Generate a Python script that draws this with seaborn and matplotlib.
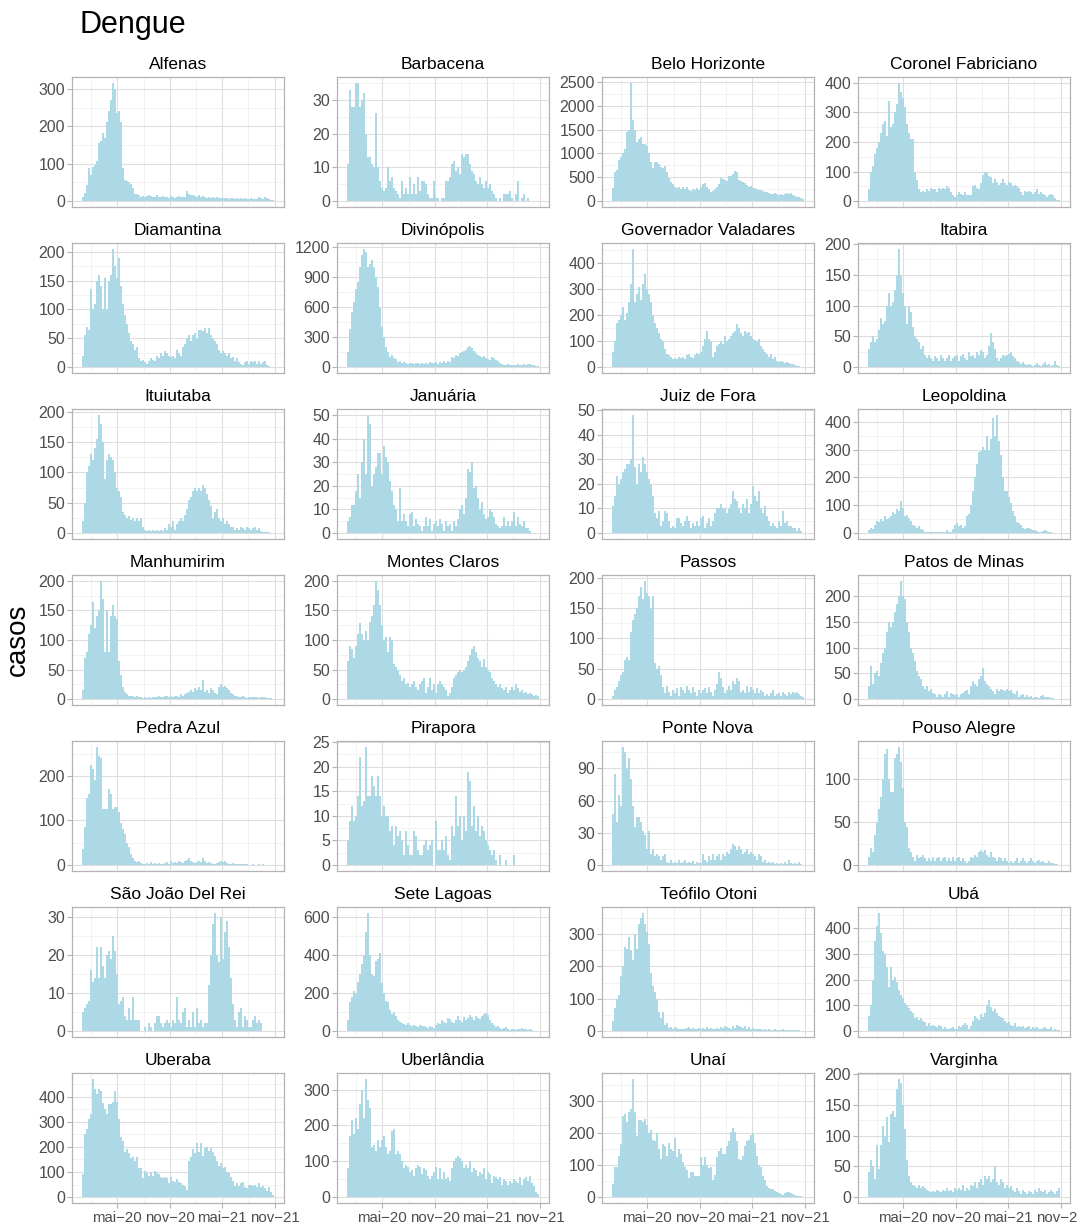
import matplotlib
matplotlib.use("Agg")
import matplotlib.pyplot as plt
import matplotlib.dates as mdates
from matplotlib.ticker import FixedLocator, FuncFormatter, NullFormatter
import numpy as np
import pandas as pd
import seaborn as sns

# casos semanais por cidade, semana 1 começa em 29/12/2019
cidades = ["Alfenas", "Barbacena", "Belo Horizonte", "Coronel Fabriciano",
           "Diamantina", "Divinópolis", "Governador Valadares", "Itabira",
           "Ituiutaba", "Januária", "Juiz de Fora", "Leopoldina",
           "Manhumirim", "Montes Claros", "Passos", "Patos de Minas",
           "Pedra Azul", "Pirapora", "Ponte Nova", "Pouso Alegre",
           "São João Del Rei", "Sete Lagoas", "Teófilo Otoni", "Ubá",
           "Uberaba", "Uberlândia", "Unaí", "Varginha"]

# passo das marcas do eixo y de cada painel
y_passo = [100, 10, 500, 100, 50, 300, 100, 50, 50, 10, 10, 100, 50, 50,
           50, 50, 100, 5, 30, 50, 10, 200, 100, 100, 100, 100, 100, 50]

alfenas = [10, 22, 42, 88, 70,
           90, 97, 106, 155, 160, 183, 170, 212, 240, 270, 316, 300, 235,
           240, 212, 88, 57, 55, 50, 45, 35, 20, 18, 15, 12, 14,
           12, 13, 15, 14, 10, 12, 15, 11, 10, 14, 12, 11, 9,
           13, 10, 9, 12, 14, 10, 11, 10, 26, 20, 17, 15, 14,
           12, 15, 11, 13, 10, 9, 11, 8, 10, 9, 11, 8, 7,
           9, 7, 8, 6, 9, 7, 6, 8, 5, 7, 6, 7, 6,
           6, 7, 5, 6, 5, 12, 9, 6, 10, 7, 5, 3, 2]
barbacena = [11, 33, 28, 28, 35,
             35, 28, 30, 32, 20, 13, 13, 11, 10, 26, 10, 6, 4,
             3, 4, 10, 6, 7, 4, 3, 2, 1, 6, 2, 4, 2,
             7, 2, 5, 2, 7, 3, 6, 6, 5, 2, 1, 1, 6,
             1, 1, 0, 1, 1, 6, 6, 7, 11, 12, 9, 10, 8,
             14, 13, 14, 14, 11, 9, 8, 6, 5, 7, 5, 4, 6,
             4, 5, 3, 2, 1, 0, 1, 0, 2, 2, 2, 3, 1,
             0, 2, 6, 0, 1, 2, 0, 1, 0, 0, 0, 0, 0]
belo_horizonte = [270, 620, 650, 870, 920,
                  1000, 1100, 1450, 1500, 2480, 1700, 1500, 1250, 1300, 1350, 1200, 1200, 1150,
                  1000, 820, 700, 820, 820, 780, 720, 700, 740, 600, 480, 400, 350,
                  300, 280, 300, 250, 300, 250, 300, 240, 220, 260, 230, 280, 230,
                  300, 350, 380, 300, 250, 200, 220, 250, 300, 350, 480, 470, 450,
                  430, 520, 520, 560, 640, 620, 450, 420, 400, 380, 340, 300, 310,
                  270, 280, 250, 240, 230, 220, 200, 190, 170, 150, 140, 160, 150,
                  130, 140, 130, 140, 160, 150, 170, 130, 100, 90, 80, 60, 40]
coronel_fabriciano = [40, 100, 120, 160, 180,
                      200, 230, 260, 270, 220, 340, 250, 260, 300, 330, 400, 370, 350,
                      320, 260, 230, 210, 210, 100, 70, 40, 30, 35, 30, 40, 35,
                      45, 40, 40, 30, 45, 40, 45, 40, 50, 45, 30, 20, 15,
                      20, 30, 25, 20, 30, 20, 20, 20, 50, 55, 45, 40, 60,
                      90, 100, 95, 85, 80, 60, 75, 65, 55, 60, 75, 60, 55,
                      65, 60, 50, 55, 50, 45, 30, 20, 35, 30, 35, 30, 25,
                      30, 40, 25, 30, 25, 20, 15, 20, 25, 20, 10, 5, 3]
diamantina = [20, 55, 70, 65, 135,
              100, 110, 150, 160, 140, 100, 155, 100, 150, 160, 205, 175, 155,
              190, 140, 110, 90, 75, 60, 45, 40, 30, 35, 15, 10, 12,
              8, 5, 10, 15, 12, 10, 20, 15, 25, 20, 28, 25, 20,
              18, 20, 15, 30, 25, 20, 35, 40, 50, 55, 45, 55, 60,
              50, 65, 65, 62, 68, 60, 68, 55, 50, 45, 40, 30, 25,
              28, 25, 20, 25, 15, 18, 10, 15, 8, 5, 3, 8, 10,
              5, 10, 8, 10, 6, 10, 5, 8, 10, 3, 2, 1, 0]
divinopolis = [150, 380, 550, 650, 780,
               850, 1000, 1120, 1180, 1150, 1000, 1030, 1070, 1000, 900, 800, 600, 400,
               300, 200, 150, 100, 120, 90, 80, 50, 60, 40, 50, 40, 30,
               45, 40, 35, 45, 40, 30, 40, 30, 45, 35, 50, 40, 45,
               55, 35, 50, 40, 60, 45, 60, 50, 100, 90, 120, 110, 140,
               150, 160, 170, 200, 210, 190, 160, 140, 120, 110, 100, 110, 90,
               80, 70, 100, 90, 70, 60, 40, 30, 20, 25, 30, 20, 25,
               20, 20, 30, 25, 20, 30, 25, 35, 30, 25, 20, 15, 10]
governador_valadares = [60, 100, 170, 180, 200,
                        230, 180, 210, 250, 320, 455, 250, 280, 310, 260, 320, 360, 300,
                        280, 250, 200, 170, 150, 130, 110, 100, 70, 50, 45, 40, 30,
                        35, 30, 40, 35, 40, 30, 45, 50, 40, 35, 45, 55, 50,
                        60, 80, 110, 140, 110, 100, 40, 60, 80, 90, 100, 90, 120,
                        100, 110, 120, 130, 140, 165, 150, 130, 120, 140, 130, 135, 120,
                        110, 105, 100, 110, 80, 70, 60, 50, 40, 50, 30, 40, 25,
                        20, 25, 20, 15, 20, 15, 10, 10, 8, 5, 3, 2, 1]
itabira = [30, 40, 50, 40, 45,
           60, 80, 70, 75, 100, 120, 100, 105, 125, 150, 192, 150, 120,
           100, 70, 100, 90, 65, 50, 45, 40, 30, 35, 20, 15, 20,
           15, 10, 18, 15, 10, 20, 15, 10, 15, 20, 10, 15, 18,
           20, 10, 18, 22, 15, 12, 25, 18, 20, 15, 25, 20, 28,
           25, 15, 20, 35, 55, 40, 30, 15, 10, 15, 20, 18, 20,
           22, 25, 18, 15, 10, 8, 5, 8, 5, 3, 5, 3, 2,
           4, 6, 3, 2, 5, 8, 3, 5, 2, 3, 10, 3, 1]
ituiutaba = [20, 50, 100, 110, 130,
             120, 140, 155, 195, 180, 150, 90, 120, 130, 125, 120, 100, 75,
             70, 60, 35, 30, 25, 28, 22, 25, 20, 25, 20, 25, 10,
             5, 3, 5, 3, 5, 3, 5, 3, 5, 3, 8, 5, 15,
             10, 20, 5, 15, 20, 25, 20, 30, 40, 55, 60, 70, 75,
             70, 75, 70, 80, 75, 65, 55, 45, 25, 35, 40, 25, 20,
             25, 15, 20, 15, 10, 10, 5, 8, 5, 10, 8, 5, 10,
             8, 5, 8, 10, 5, 8, 3, 2, 2, 1, 1, 0, 0]
januaria = [5, 7, 12, 12, 18,
            25, 15, 30, 40, 25, 50, 46, 20, 25, 28, 34, 34, 25,
            37, 32, 30, 22, 18, 12, 10, 5, 19, 5, 8, 5, 3,
            8, 9, 3, 6, 4, 3, 1, 3, 7, 3, 6, 1, 4,
            5, 3, 6, 4, 1, 5, 3, 4, 1, 5, 3, 6, 10,
            12, 8, 15, 27, 26, 30, 19, 20, 15, 10, 13, 8, 6,
            7, 10, 9, 7, 4, 3, 2, 3, 7, 3, 5, 3, 5,
            9, 3, 7, 4, 3, 5, 2, 2, 1, 0, 0, 0, 0]
juiz_de_fora = [11, 15, 23, 20, 22,
                25, 26, 28, 28, 30, 48, 27, 20, 28, 25, 31, 28, 25,
                22, 20, 15, 8, 6, 9, 3, 5, 9, 8, 5, 2, 3,
                2, 6, 6, 4, 3, 5, 7, 5, 2, 4, 3, 5, 3,
                6, 7, 2, 4, 6, 3, 5, 8, 10, 10, 12, 10, 10,
                8, 10, 12, 17, 14, 13, 10, 8, 12, 10, 14, 8, 12,
                19, 15, 13, 17, 10, 8, 11, 7, 5, 3, 4, 3, 2,
                5, 3, 9, 4, 5, 3, 3, 2, 2, 1, 2, 1, 0]
leopoldina = [10, 20, 15, 30, 45,
              40, 50, 45, 60, 50, 55, 60, 75, 70, 85, 80, 115, 90,
              60, 65, 55, 45, 30, 25, 20, 25, 15, 10, 5, 5, 5,
              3, 5, 5, 5, 3, 5, 3, 5, 10, 5, 5, 15, 30,
              35, 25, 30, 20, 25, 60, 70, 100, 150, 200, 250, 290, 295,
              310, 300, 350, 300, 340, 415, 350, 425, 330, 280, 200, 150, 150,
              130, 110, 80, 60, 40, 35, 30, 20, 15, 20, 20, 15, 10,
              10, 8, 5, 5, 8, 10, 8, 5, 3, 0, 0, 0, 0]
manhumirim = [15, 70, 80, 110, 125,
              165, 120, 140, 150, 200, 170, 80, 150, 80, 140, 160, 140, 135,
              65, 40, 20, 12, 8, 5, 5, 6, 4, 5, 3, 3, 2,
              3, 2, 3, 2, 4, 3, 3, 5, 3, 4, 6, 5, 4,
              5, 3, 6, 5, 4, 8, 5, 8, 10, 12, 15, 12, 18,
              15, 20, 15, 32, 12, 15, 10, 18, 15, 10, 8, 20, 25,
              20, 22, 18, 15, 10, 8, 5, 5, 3, 4, 5, 3, 2,
              4, 3, 3, 4, 3, 2, 3, 4, 3, 2, 1, 1, 0]
montes_claros = [65, 90, 85, 70, 90,
                 110, 128, 110, 100, 115, 100, 130, 140, 160, 200, 185, 160, 125,
                 100, 105, 80, 105, 100, 60, 55, 50, 40, 30, 35, 25, 28,
                 20, 25, 30, 20, 15, 25, 30, 35, 10, 20, 35, 15, 25,
                 10, 25, 30, 25, 20, 15, 5, 10, 20, 35, 40, 45, 50,
                 45, 50, 55, 65, 75, 85, 90, 80, 70, 65, 55, 68, 55,
                 50, 45, 35, 30, 25, 20, 25, 18, 15, 20, 10, 15, 20,
                 15, 25, 18, 12, 15, 10, 12, 8, 10, 8, 5, 7, 5]
passos = [5, 15, 20, 30, 40,
          45, 65, 70, 65, 110, 130, 140, 150, 170, 185, 165, 195, 175,
          170, 150, 170, 60, 50, 55, 40, 20, 10, 22, 12, 5, 15,
          10, 18, 5, 20, 15, 10, 22, 15, 10, 20, 12, 5, 15,
          10, 15, 18, 10, 20, 12, 5, 15, 25, 45, 35, 20, 10,
          15, 22, 15, 30, 25, 35, 30, 12, 15, 10, 22, 12, 20,
          15, 10, 18, 10, 15, 12, 5, 8, 5, 10, 15, 5, 8,
          10, 5, 12, 8, 5, 12, 8, 12, 10, 12, 8, 5, 4]
patos_de_minas = [25, 65, 30, 50, 55,
                  45, 70, 90, 100, 130, 150, 140, 150, 170, 185, 200, 230, 200,
                  195, 150, 130, 100, 90, 75, 55, 45, 40, 25, 20, 25, 15,
                  20, 12, 10, 5, 10, 8, 5, 10, 15, 5, 12, 10, 8,
                  10, 5, 10, 12, 15, 18, 10, 25, 35, 30, 25, 40, 45,
                  60, 35, 30, 25, 20, 15, 10, 20, 15, 20, 18, 15, 20,
                  15, 18, 12, 10, 15, 5, 8, 10, 5, 8, 4, 6, 3,
                  5, 4, 3, 6, 8, 5, 4, 5, 2, 3, 1, 1, 0]
pedra_azul = [35, 85, 150, 160, 225,
              215, 190, 265, 245, 240, 125, 125, 125, 170, 160, 125, 130, 130,
              120, 95, 80, 70, 50, 40, 25, 15, 10, 8, 10, 5, 3,
              2, 5, 3, 8, 3, 5, 3, 5, 3, 2, 5, 8, 3,
              10, 5, 8, 5, 10, 8, 5, 10, 12, 15, 10, 8, 5,
              8, 10, 8, 15, 10, 5, 8, 5, 3, 2, 5, 8, 10,
              8, 10, 5, 3, 2, 5, 3, 2, 3, 2, 3, 2, 2,
              1, 1, 2, 1, 1, 2, 1, 3, 1, 1, 0, 0, 0]
pirapora = [5, 9, 12, 9, 10,
            14, 22, 12, 13, 24, 14, 14, 18, 16, 14, 18, 14, 10,
            12, 10, 10, 7, 8, 4, 8, 6, 7, 5, 2, 7, 4,
            2, 2, 7, 6, 3, 2, 2, 4, 5, 3, 4, 5, 0,
            9, 3, 3, 5, 3, 6, 2, 1, 8, 6, 14, 8, 10,
            5, 10, 7, 19, 17, 8, 12, 7, 10, 6, 8, 7, 5,
            4, 3, 2, 3, 1, 0, 2, 0, 0, 1, 0, 0, 0,
            2, 0, 0, 0, 0, 0, 0, 0, 0, 0, 0, 0, 0]
ponte_nova = [48, 85, 40, 65, 55,
              110, 105, 90, 100, 80, 55, 35, 45, 45, 40, 32, 28, 15,
              32, 10, 15, 8, 10, 8, 5, 8, 10, 3, 2, 5, 2,
              3, 2, 5, 2, 3, 5, 2, 3, 2, 4, 1, 3, 2,
              2, 10, 5, 3, 8, 5, 10, 5, 8, 10, 5, 10, 8,
              12, 10, 15, 20, 18, 14, 18, 15, 10, 12, 15, 10, 12,
              10, 8, 5, 10, 8, 3, 5, 2, 3, 2, 3, 1, 2,
              1, 2, 1, 3, 1, 5, 2, 1, 2, 1, 3, 1, 0]
pouso_alegre = [10, 20, 15, 35, 50,
                65, 80, 100, 130, 135, 100, 85, 85, 125, 130, 138, 120, 90,
                50, 45, 20, 15, 10, 5, 12, 8, 10, 12, 8, 5, 8,
                5, 10, 5, 8, 10, 5, 8, 10, 5, 8, 5, 10, 5,
                8, 10, 5, 8, 5, 3, 5, 10, 8, 12, 10, 15, 18,
                15, 18, 12, 10, 15, 10, 8, 5, 10, 8, 5, 8, 5,
                3, 5, 3, 5, 8, 3, 5, 8, 5, 3, 5, 8, 5,
                3, 5, 6, 4, 5, 3, 2, 5, 3, 2, 1, 1, 0]
sao_joao_del_rei = [5, 6, 7, 8, 16,
                    13, 14, 22, 14, 22, 17, 14, 20, 21, 19, 25, 21, 15,
                    7, 8, 9, 4, 3, 6, 3, 9, 3, 3, 3, 0, 0,
                    1, 0, 2, 1, 0, 2, 4, 4, 2, 1, 2, 3, 2,
                    1, 3, 2, 9, 3, 2, 5, 6, 1, 3, 1, 5, 1,
                    6, 2, 3, 1, 2, 2, 12, 20, 28, 31, 20, 18, 30,
                    19, 26, 29, 22, 14, 7, 3, 1, 5, 6, 1, 4, 3,
                    1, 1, 3, 4, 2, 3, 2, 0, 0, 0, 0, 0, 0]
sete_lagoas = [60, 150, 180, 210, 200,
               260, 300, 350, 400, 520, 620, 400, 300, 290, 370, 380, 410, 250,
               200, 160, 150, 110, 90, 100, 80, 60, 50, 40, 35, 30, 40,
               30, 25, 30, 25, 20, 30, 25, 25, 20, 15, 25, 20, 15,
               30, 40, 35, 60, 50, 45, 70, 65, 50, 40, 60, 80, 60,
               50, 75, 60, 70, 85, 75, 60, 80, 70, 65, 80, 90, 95,
               85, 60, 40, 30, 20, 25, 15, 10, 15, 20, 10, 8, 12,
               10, 8, 12, 10, 15, 12, 10, 8, 10, 5, 3, 2, 1]
teofilo_otoni = [30, 70, 100, 110, 170,
                 200, 260, 255, 290, 250, 220, 300, 255, 330, 350, 365, 330, 305,
                 270, 180, 140, 120, 100, 60, 40, 60, 20, 25, 10, 12, 8,
                 12, 10, 8, 5, 8, 5, 10, 12, 8, 10, 5, 8, 10,
                 5, 10, 8, 12, 8, 10, 5, 8, 10, 8, 12, 10, 15,
                 12, 10, 8, 15, 10, 18, 15, 12, 10, 15, 8, 12, 5,
                 10, 8, 5, 8, 5, 3, 5, 3, 6, 4, 3, 5, 3,
                 4, 2, 5, 3, 2, 4, 3, 2, 3, 2, 2, 1, 1]
uba = [60, 100, 200, 350, 410,
       460, 380, 310, 300, 250, 170, 250, 200, 210, 190, 160, 140, 130,
       110, 100, 90, 80, 70, 50, 55, 45, 50, 40, 35, 20, 30,
       20, 25, 20, 15, 22, 18, 10, 15, 10, 8, 12, 15, 10,
       10, 20, 15, 25, 30, 25, 10, 20, 40, 60, 50, 45, 65,
       55, 70, 100, 120, 95, 80, 85, 70, 60, 55, 50, 40, 30,
       35, 25, 20, 30, 15, 20, 15, 20, 12, 15, 18, 10, 15,
       12, 15, 10, 8, 12, 15, 10, 8, 15, 5, 8, 5, 3]
uberaba = [90, 250, 270, 310, 330,
           470, 430, 410, 430, 420, 375, 350, 330, 370, 370, 380, 420, 380,
           310, 240, 225, 180, 190, 175, 155, 160, 145, 160, 115, 115, 75,
           105, 95, 85, 100, 85, 105, 95, 90, 80, 75, 80, 75, 55,
           80, 65, 60, 70, 60, 55, 50, 45, 30, 145, 160, 190, 175,
           215, 180, 215, 165, 195, 200, 185, 195, 180, 165, 145, 125, 135,
           115, 120, 100, 95, 80, 65, 45, 55, 45, 55, 60, 40, 35,
           50, 50, 45, 50, 40, 55, 40, 45, 35, 25, 40, 20, 10]
uberlandia = [80, 170, 215, 175, 220,
              190, 260, 300, 220, 330, 270, 250, 140, 145, 130, 160, 140, 160,
              170, 140, 120, 130, 185, 190, 120, 130, 120, 100, 80, 90, 85,
              70, 75, 60, 80, 90, 85, 65, 80, 75, 60, 50, 60, 70,
              85, 50, 80, 50, 70, 50, 55, 45, 80, 100, 110, 115, 110,
              100, 80, 90, 80, 100, 70, 80, 75, 60, 70, 65, 80, 50,
              70, 65, 40, 60, 55, 50, 55, 35, 50, 45, 35, 45, 40,
              50, 45, 40, 55, 35, 50, 55, 45, 58, 40, 30, 15, 10]
unai = [40, 95, 95, 130, 165,
        255, 260, 235, 265, 275, 370, 265, 190, 240, 240, 235, 245, 225,
        200, 210, 180, 175, 200, 150, 120, 165, 160, 130, 170, 150, 145,
        185, 125, 150, 135, 110, 95, 85, 60, 80, 80, 65, 65, 65,
        125, 100, 125, 100, 90, 95, 55, 70, 125, 145, 155, 135, 135,
        160, 175, 205, 215, 205, 175, 120, 115, 130, 160, 175, 180, 195,
        200, 170, 130, 100, 95, 65, 55, 35, 30, 25, 25, 20, 15,
        12, 10, 8, 12, 15, 15, 12, 10, 5, 3, 2, 2, 1]
varginha = [40, 60, 50, 30, 85,
            45, 85, 115, 100, 130, 90, 135, 140, 130, 175, 192, 185, 150,
            110, 60, 35, 25, 20, 18, 15, 20, 15, 18, 15, 12, 10,
            8, 10, 8, 12, 10, 8, 12, 10, 15, 10, 12, 8, 15,
            12, 15, 12, 20, 10, 15, 12, 20, 18, 25, 15, 25, 30,
            20, 35, 30, 35, 25, 30, 50, 25, 20, 30, 25, 15, 20,
            15, 18, 12, 8, 15, 10, 5, 12, 8, 5, 10, 8, 5,
            12, 8, 15, 10, 8, 12, 5, 8, 12, 8, 5, 10, 15]

series = [alfenas, barbacena, belo_horizonte, coronel_fabriciano,
          diamantina, divinopolis, governador_valadares, itabira,
          ituiutaba, januaria, juiz_de_fora, leopoldina,
          manhumirim, montes_claros, passos, patos_de_minas,
          pedra_azul, pirapora, ponte_nova, pouso_alegre,
          sao_joao_del_rei, sete_lagoas, teofilo_otoni, uba,
          uberaba, uberlandia, unai, varginha]

meses = {2: "fev", 5: "mai", 8: "ago", 11: "nov"}
inicio = pd.Timestamp("2019-12-29")
n_semanas = 96

sns.set_theme(style="whitegrid")
plt.rcParams["font.family"] = ["Liberation Sans", "DejaVu Sans"]

W, H = 1078, 1224
fig = plt.figure(figsize=(W / 100, H / 100), dpi=100)

col_esq = [72, 337, 602, 858]
larg, alt = 212, 130

x0 = mdates.date2num(inicio)
x1 = x0 + 7 * n_semanas
folga = 0.05 * (x1 - x0)


def rotulo_data(x, pos):
    d = mdates.num2date(x)
    return f"{meses[d.month]}\u2212{d:%y}"


for k, (nome, vals, passo) in enumerate(zip(cidades, series, y_passo)):
    lin, col = divmod(k, 4)
    topo = 77 + 166 * lin
    ax = fig.add_axes([col_esq[col] / W, 1 - (topo + alt) / H, larg / W, alt / H])

    n = len(vals)
    centros = x0 + 3.5 + 7 * np.arange(n)
    df = pd.DataFrame({"semana": centros, "casos": vals})
    sns.histplot(data=df, x="semana", weights="casos", binwidth=7,
                 binrange=(x0, x0 + 7 * n), color="#ADD8E6", alpha=1,
                 linewidth=0, shrink=0.95, ax=ax)

    ymax = max(vals)
    ax.set_xlim(x0 - folga, x1 + folga)
    ax.set_ylim(-0.05 * ymax, 1.05 * ymax)
    marcas = np.arange(0, 1.05 * ymax + 1e-9, passo)
    ax.yaxis.set_major_locator(FixedLocator(marcas))
    menores = marcas + passo / 2
    ax.yaxis.set_minor_locator(FixedLocator(menores[menores <= 1.05 * ymax]))
    ax.yaxis.set_minor_formatter(NullFormatter())

    ax.xaxis.set_major_locator(mdates.MonthLocator(bymonth=[5, 11]))
    ax.xaxis.set_minor_locator(mdates.MonthLocator(bymonth=[2, 8]))
    ax.xaxis.set_major_formatter(FuncFormatter(rotulo_data))
    ax.xaxis.set_minor_formatter(NullFormatter())

    ax.set_axisbelow(True)
    ax.grid(which="major", color="#DEDEDE", linewidth=0.8)
    ax.grid(which="minor", color="#EDEDED", linewidth=0.5)
    for s in ax.spines.values():
        s.set_visible(True)
        s.set_color("#B3B3B3")
        s.set_linewidth(0.9)

    ax.tick_params(axis="y", which="major", left=True, length=3.5, width=0.8,
                   color="#B3B3B3", labelsize=11.5, labelcolor="#4D4D4D", pad=1.5)
    ax.tick_params(axis="both", which="minor", length=0)
    if lin == 6:
        ax.tick_params(axis="x", which="major", bottom=True, length=3.5, width=0.8,
                       color="#B3B3B3", labelsize=10.8, labelcolor="#4D4D4D", pad=2.5)
    else:
        ax.tick_params(axis="x", which="both", bottom=False, labelbottom=False)

    ax.set_xlabel("")
    ax.set_ylabel("")
    ax.set_title(nome, fontsize=12.5, pad=5.5, color="black")

fig.text(80 / W, 1 - 33 / H, "Dengue", fontsize=22, va="baseline", ha="left",
         color="black")
fig.text(18 / W, 1 - 640 / H, "casos", fontsize=20, rotation=90,
         va="center", ha="center", color="black")

fig.savefig("out.png", dpi=100)
